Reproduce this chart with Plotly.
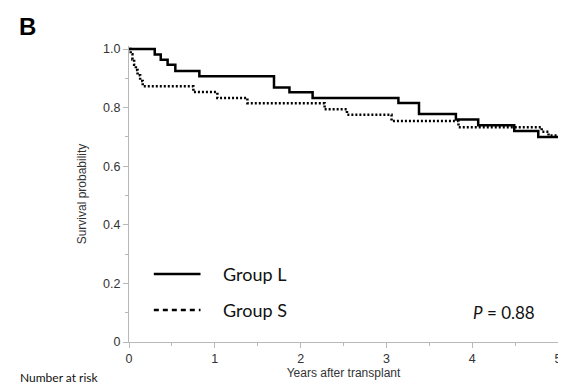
import plotly.graph_objects as go

# Kaplan-Meier step data
group_l_years = [0, 0.30, 0.37, 0.45, 0.54, 0.82, 1.69, 1.87, 2.14, 3.14, 3.38, 3.81, 4.07, 4.49, 4.77, 5.0]
group_l_surv = [1.0, 0.981, 0.963, 0.946, 0.925, 0.907, 0.869, 0.852, 0.833, 0.816, 0.778, 0.759, 0.740, 0.720, 0.700, 0.700]

group_s_years = [0, 0.02, 0.04, 0.06, 0.08, 0.10, 0.13, 0.16, 0.75, 1.03, 1.38, 2.28, 2.54, 3.06, 3.84, 4.81, 4.89, 5.0]
group_s_surv = [1.0, 0.982, 0.964, 0.946, 0.928, 0.910, 0.891, 0.873, 0.853, 0.833, 0.815, 0.794, 0.776, 0.754, 0.733, 0.718, 0.705, 0.705]

x_tick_vals = [0, 1, 2, 3, 4, 5]
x_tick_text = ["0", "1", "2", "3", "4", "5"]
y_tick_vals = [0, 0.2, 0.4, 0.6, 0.8, 1.0]
y_tick_text = ["0", "0.2", "0.4", "0.6", "0.8", "1.0"]

group_names = ["Group L", "Group S"]
p_value_text = "<i>P</i> = 0.88"

W, H = 566, 385
L, R, T, B = 121, 13, 38, 51
pw, ph = W - L - R, H - T - B

def px_x(x):
    return (x - L) / pw

def px_y(y):
    return (H - B - y) / ph

tick_font = dict(family="Liberation Sans, Arial, sans-serif", size=12.5, color="#333333")
title_font = dict(family="Liberation Sans, Arial, sans-serif", size=12, color="#333333")
legend_font = dict(family="Lato, Calibri, sans-serif", size=18, color="#111111")
p_font = dict(family="Lato, Calibri, sans-serif", size=17, color="#111111")

fig = go.Figure()
fig.add_trace(go.Scatter(x=group_l_years, y=group_l_surv, mode="lines", line_shape="hv",
                         line=dict(color="black", width=2.5), name=group_names[0], showlegend=False))
fig.add_trace(go.Scatter(x=group_s_years, y=group_s_surv, mode="lines", line_shape="hv",
                         line=dict(color="black", width=2.5, dash="2px,2px"), name=group_names[1], showlegend=False))

axis_common = dict(showline=True, linecolor="#b8b8b8", linewidth=1.2, showgrid=False, zeroline=False,
                   ticks="outside", ticklen=5, tickcolor="#b8b8b8", tickfont=tick_font)

fig.update_xaxes(range=[0, 5], tickvals=x_tick_vals, ticktext=x_tick_text,
                 minor=dict(dtick=0.5, ticklen=3, tickcolor="#b8b8b8", ticks="outside"),
                 title=dict(text="Years after transplant", font=title_font, standoff=2), **axis_common)
fig.update_yaxes(range=[0, (H - B - T) / 293.0], tickvals=y_tick_vals, ticktext=y_tick_text,
                 minor=dict(tickvals=[0.1, 0.3, 0.5, 0.7, 0.9], ticklen=3, tickcolor="#b8b8b8", ticks="outside"),
                 title=dict(text="Survival probability", font=title_font, standoff=13), **axis_common)

shapes = [
    dict(type="line", xref="paper", yref="paper", x0=px_x(146), x1=px_x(193), y0=px_y(266), y1=px_y(266),
         line=dict(color="black", width=2.5)),
    dict(type="line", xref="paper", yref="paper", x0=px_x(146), x1=px_x(193), y0=px_y(302), y1=px_y(302),
         line=dict(color="black", width=2.5, dash="5px,4px")),
]
annotations = [
    dict(text=group_names[0], xref="paper", yref="paper", x=px_x(214), y=px_y(266), xanchor="left",
         yanchor="middle", showarrow=False, font=legend_font),
    dict(text=group_names[1], xref="paper", yref="paper", x=px_x(214), y=px_y(302), xanchor="left",
         yanchor="middle", showarrow=False, font=legend_font),
    dict(text=p_value_text, xref="paper", yref="paper", x=px_x(532), y=px_y(304), xanchor="right",
         yanchor="middle", showarrow=False, font=p_font),
    dict(text="<b>B</b>", xref="paper", yref="paper", x=px_x(8), y=px_y(3), xanchor="left",
         yanchor="top", showarrow=False, font=dict(family="Liberation Sans, Arial, sans-serif", size=24, color="black")),
    dict(text="Number at risk", xref="paper", yref="paper", x=px_x(9), y=px_y(379), xanchor="left",
         yanchor="bottom", showarrow=False, font=dict(family="Lato, Calibri, sans-serif", size=12, color="#111111")),
]

fig.update_layout(width=W, height=H, margin=dict(l=L, r=R, t=T, b=B, pad=0),
                  paper_bgcolor="white", plot_bgcolor="white",
                  shapes=shapes, annotations=annotations, showlegend=False)

fig.write_html("out.html")
